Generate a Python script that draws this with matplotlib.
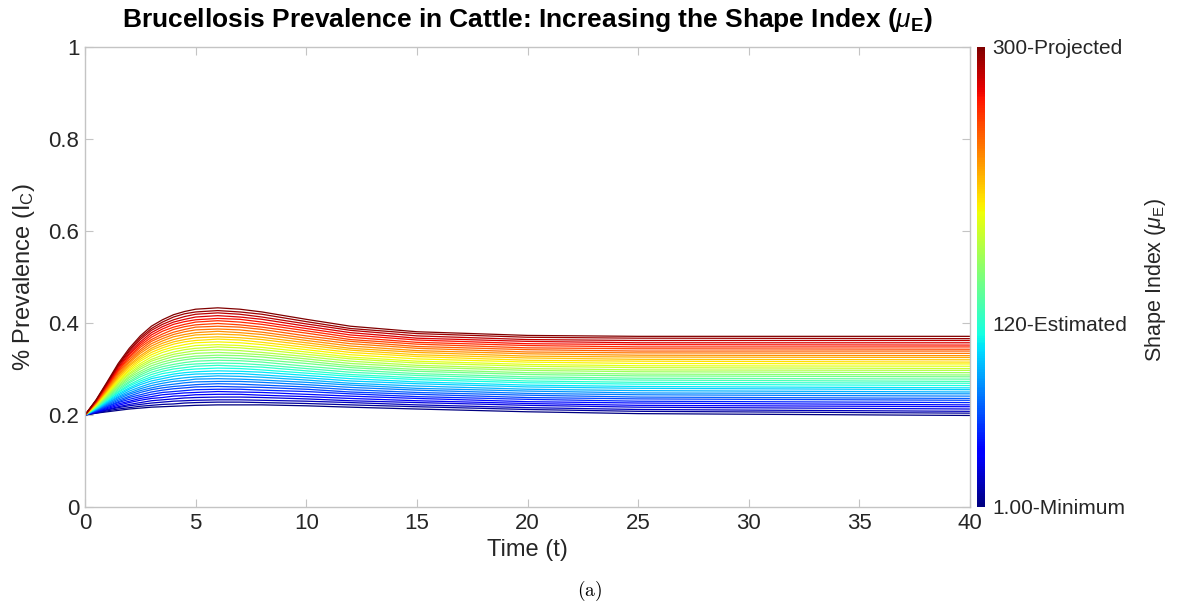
import numpy as np
import matplotlib
matplotlib.use('Agg')
import matplotlib.pyplot as plt
from matplotlib import cm, colors

plt.rcParams['font.family'] = ['Liberation Sans', 'DejaVu Sans']
plt.rcParams['mathtext.fontset'] = 'custom'
plt.rcParams['mathtext.rm'] = 'Liberation Sans'
plt.rcParams['mathtext.it'] = 'Liberation Sans:italic'
plt.rcParams['mathtext.bf'] = 'Liberation Sans:bold'

# time samples
t = [0, 0.5, 1, 1.5, 2, 2.5, 3, 3.5, 4, 4.5, 5, 6, 7, 8, 10, 12, 15, 20, 25, 40]

# shape index of each curve (low -> high)
mu_E = [1, 9, 17, 25, 33, 41, 50, 58, 66, 74, 82, 90, 98, 106, 114, 122, 130, 138, 146,
        155, 163, 171, 179, 187, 195, 203, 211, 219, 227, 235, 243, 251, 260, 268, 276, 284, 292, 300]

# prevalence I_C of every curve at each time sample (same order as mu_E)
I_t0 = [0.200] * 38
I_t0_5 = [.204, .204, .205, .206, .207, .208, .208, .209, .210, .211, .212, .212, .213, .214, .215, .216, .216, .217, .218,
          .219, .219, .220, .221, .222, .223, .223, .224, .225, .226, .227, .227, .228, .229, .230, .231, .231, .232, .233]
I_t1 = [.207, .209, .211, .212, .214, .216, .218, .219, .221, .223, .225, .226, .228, .230, .232, .233, .235, .237, .239,
        .240, .242, .244, .246, .247, .249, .251, .253, .254, .256, .258, .260, .262, .263, .265, .267, .269, .270, .272]
I_t1_5 = [.210, .213, .216, .218, .221, .224, .227, .229, .232, .235, .238, .240, .243, .246, .249, .251, .254, .257, .260,
          .262, .265, .268, .271, .273, .276, .279, .282, .284, .287, .290, .293, .296, .298, .301, .304, .307, .309, .312]
I_t2 = [.213, .216, .220, .223, .227, .230, .234, .238, .241, .245, .248, .252, .256, .259, .263, .266, .270, .273, .277,
        .281, .284, .288, .291, .295, .298, .302, .306, .309, .313, .316, .320, .324, .327, .331, .334, .338, .341, .345]
I_t2_5 = [.215, .219, .223, .227, .232, .236, .240, .244, .249, .253, .257, .261, .266, .270, .274, .278, .283, .287, .291,
          .295, .300, .304, .308, .312, .317, .321, .325, .329, .334, .338, .342, .347, .351, .355, .359, .364, .368, .372]
I_t3 = [.217, .221, .226, .231, .236, .240, .245, .250, .255, .259, .264, .269, .274, .279, .283, .288, .293, .298, .302,
        .307, .312, .317, .321, .326, .331, .336, .341, .345, .350, .355, .360, .364, .369, .374, .379, .384, .388, .393]
I_t3_5 = [.218, .223, .228, .233, .238, .244, .249, .254, .259, .264, .269, .274, .279, .284, .290, .295, .300, .305, .310,
          .315, .320, .325, .330, .336, .341, .346, .351, .356, .361, .366, .371, .376, .382, .387, .392, .397, .402, .407]
I_t4 = [.219, .224, .230, .235, .241, .246, .251, .257, .262, .267, .273, .278, .284, .289, .294, .300, .305, .310, .316,
        .321, .327, .332, .337, .343, .348, .354, .359, .364, .370, .375, .380, .386, .391, .397, .402, .407, .413, .418]
I_t4_5 = [.220, .226, .231, .237, .242, .248, .253, .259, .264, .270, .275, .281, .287, .292, .298, .303, .309, .314, .320,
          .325, .331, .336, .342, .347, .353, .359, .364, .370, .375, .381, .386, .392, .397, .403, .408, .414, .420, .425]
I_t5 = [.221, .227, .232, .238, .244, .249, .255, .261, .266, .272, .278, .283, .289, .294, .300, .306, .311, .317, .323,
        .328, .334, .340, .345, .351, .357, .362, .368, .374, .379, .385, .391, .396, .402, .407, .413, .419, .424, .430]
I_t6 = [.222, .228, .233, .239, .245, .251, .256, .262, .268, .273, .279, .285, .290, .296, .302, .308, .313, .319, .325,
        .330, .336, .342, .348, .353, .359, .365, .370, .376, .382, .387, .393, .399, .405, .410, .416, .422, .427, .433]
I_t7 = [.222, .228, .233, .239, .245, .250, .256, .261, .267, .273, .278, .284, .290, .295, .301, .306, .312, .318, .323,
        .329, .334, .340, .346, .351, .357, .363, .368, .374, .379, .385, .391, .396, .402, .408, .413, .419, .424, .430]
I_t8 = [.222, .227, .232, .238, .243, .249, .254, .260, .265, .271, .276, .282, .287, .293, .298, .304, .309, .315, .320,
        .326, .331, .336, .342, .347, .353, .358, .364, .369, .375, .380, .386, .391, .397, .402, .408, .413, .419, .424]
I_t10 = [.220, .225, .230, .235, .240, .245, .251, .256, .261, .266, .271, .276, .281, .286, .291, .296, .301, .306, .312,
         .317, .322, .327, .332, .337, .342, .347, .352, .357, .362, .367, .372, .378, .383, .388, .393, .398, .403, .408]
I_t12 = [.217, .222, .227, .231, .236, .241, .246, .250, .255, .260, .265, .269, .274, .279, .284, .288, .293, .298, .303,
         .307, .312, .317, .322, .326, .331, .336, .341, .345, .350, .355, .360, .364, .369, .374, .379, .384, .388, .393]
I_t15 = [.213, .218, .222, .227, .231, .236, .240, .245, .249, .254, .258, .263, .268, .272, .277, .281, .286, .290, .295,
         .299, .304, .308, .313, .317, .322, .327, .331, .336, .340, .345, .349, .354, .358, .363, .367, .372, .377, .381]
I_t20 = [.207, .212, .216, .221, .225, .229, .234, .238, .243, .247, .252, .256, .261, .265, .270, .274, .279, .283, .288,
         .292, .297, .301, .306, .310, .315, .319, .324, .328, .333, .337, .342, .346, .351, .355, .360, .364, .369, .373]
I_t25 = [.203, .208, .212, .217, .221, .226, .230, .235, .239, .244, .248, .253, .258, .262, .267, .271, .276, .280, .285,
         .289, .294, .298, .303, .307, .312, .317, .321, .326, .330, .335, .339, .344, .348, .353, .357, .362, .367, .371]
I_t40 = [.199, .204, .208, .213, .218, .222, .227, .232, .236, .241, .246, .250, .255, .259, .264, .269, .273, .278, .283,
         .287, .292, .297, .301, .306, .311, .315, .320, .325, .329, .334, .339, .343, .348, .352, .357, .362, .366, .371]

cbar_ticks = [1, 120, 300]
cbar_ticklabels = ['1.00-Minimum', '120-Estimated', '300-Projected']

I_C = np.array([I_t0, I_t0_5, I_t1, I_t1_5, I_t2, I_t2_5, I_t3, I_t3_5, I_t4, I_t4_5, I_t5, I_t6,
                I_t7, I_t8, I_t10, I_t12, I_t15, I_t20, I_t25, I_t40])

axis_grey = '#c4c4c4'
text_col = '#262626'

fig = plt.figure(figsize=(11.77, 6.09), dpi=100)
ax = fig.add_axes([85 / 1177, 102 / 609, 885 / 1177, 460 / 609])

norm = colors.Normalize(vmin=1, vmax=300)
cmap = plt.get_cmap('jet')
for j, m in enumerate(mu_E):
    ax.plot(t, I_C[:, j], color=cmap(norm(m)), lw=0.9)

ax.set_xlim(0, 40)
ax.set_ylim(0, 1)
ax.set_xticks(range(0, 41, 5))
ax.set_yticks([0, 0.2, 0.4, 0.6, 0.8, 1])
ax.set_yticklabels(['0', '0.2', '0.4', '0.6', '0.8', '1'])
for s in ax.spines.values():
    s.set_color(axis_grey)
    s.set_linewidth(1.0)
ax.tick_params(direction='in', length=6, width=0.8, color=axis_grey, labelcolor=text_col,
               labelsize=16, top=True, right=True, pad=4)

ax.set_xlabel('Time (t)', fontsize=17, color=text_col, labelpad=4)
ax.set_ylabel(r'% Prevalence (I$_\mathrm{C}$)', fontsize=17, color=text_col, labelpad=8)

fig.text(527 / 1177, 1 - 20 / 609,
         r'Brucellosis Prevalence in Cattle: Increasing the Shape Index ($\mu_\mathbf{E}$)',
         ha='center', va='center', fontsize=19, fontweight='bold', color='black')

cax = fig.add_axes([977 / 1177, 102 / 609, 8 / 1177, 460 / 609])
sm = cm.ScalarMappable(norm=norm, cmap=cmap)
cb = fig.colorbar(sm, cax=cax)
cb.outline.set_visible(False)
cb.set_ticks(cbar_ticks)
cb.set_ticklabels(cbar_ticklabels)
cax.tick_params(length=0, labelsize=15, labelcolor=text_col, pad=5)
fig.text(1156 / 1177, 1 - 280 / 609, r'Shape Index ($\mu_\mathrm{E}$)', rotation=90,
         ha='center', va='center', fontsize=15.5, color=text_col)

fig.text(590 / 1177, 1 - 591 / 609, r'$\mathrm{(a)}$', math_fontfamily='cm',
         ha='center', va='center', fontsize=14, color='black')

fig.savefig('out.png', dpi=100)
